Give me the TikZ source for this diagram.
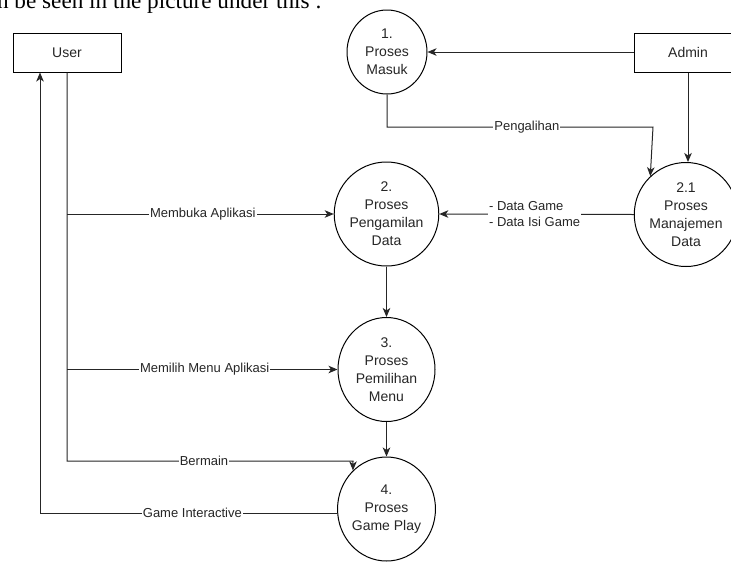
\documentclass[tikz,border=0pt]{standalone}
\usepackage{fontspec}
\setmainfont{Liberation Sans}
\newfontfamily\serifhead{Liberation Serif}
\usetikzlibrary{shapes.geometric,arrows.meta}
\begin{document}
\begin{tikzpicture}[x=1pt,y=-1pt,
  proc/.style={ellipse,draw=black,line width=1pt,inner sep=0pt,minimum width=97pt,minimum height=104pt,align=center,font=\fontsize{14}{18}\selectfont,text=black!85},
  ent/.style={rectangle,draw=black,line width=1pt,minimum width=108pt,minimum height=39pt,inner sep=0pt,font=\fontsize{14}{17}\selectfont,text=black!85},
  con/.style={draw=black!85,line width=1pt},
  arr/.style={con,-{Stealth[length=9pt,width=7.5pt,inset=2.5pt]}},
  lbl/.style={fill=white,inner sep=1pt,font=\fontsize{13}{16}\selectfont,text=black!85}]
\useasboundingbox (0,0) rectangle (731,563);
\clip (0,0) rectangle (731,563);
\fill[white] (0,0) rectangle (731,563);
\node[anchor=base east,inner sep=0pt,font=\serifhead\fontsize{23.2}{27}\selectfont] (head) at (322,8.5) {can be seen in the picture under this :};
% entities
\node[ent] (u) at (67,52.5) {User};
\node[ent] (a) at (688,52.5) {Admin};
% processes
\node[proc,minimum width=80pt,minimum height=84pt] (c1) at (387,52) {1.\\Proses\\Masuk};
\node[proc] (c2) at (386.5,214) {2.\\Proses\\Pengamilan\\Data};
\node[proc] (c3) at (386.5,369.5) {3.\\Proses\\Pemilihan\\Menu};
\node[proc] (c4) at (386.5,509) {4.\\Proses\\Game Play};
\node[proc,minimum width=90pt] (c21) at (686,214.5) {2.1\\Proses\\Manajemen\\Data};
% coordinates for bends
\coordinate (p1) at (387,127);
\coordinate (p2) at (653,127);
\coordinate (b1) at (67,461);
\coordinate (b2) at (353,461);
\coordinate (g2) at (40,513);
% connectors
\draw[arr] (a.west |- c1.east) -- (c1.east);
\draw[arr] (a.south) -- (a.south |- c21.north);
\draw[arr] (c1.south) -- (p1) -- node[lbl,pos=0.526]{Pengalihan} (p2) -- (c21.133.1);
\draw[arr] (c21.west) -- node[lbl,pos=0.51,align=left]{- Data Game\\- Data Isi Game} (c2.east);
\draw[arr] (c2.south) -- (c3.north);
\draw[arr] (c3.south) -- (c4.north);
\draw[arr] (u.south) -- (b1) -- node[lbl,pos=0.479]{Bermain} (b2) -- (c4.131.7);
\draw[arr] (u.south |- c2.west) -- node[lbl,pos=0.509]{Membuka Aplikasi} (c2.west);
\draw[arr] (u.south |- c3.west) -- node[lbl,pos=0.509]{Memilih Menu Aplikasi} (c3.west);
\draw[arr] ([yshift=-4pt]c4.west) -- node[lbl,pos=0.487]{Game Interactive} (g2) -- (g2 |- u.south);
\end{tikzpicture}
\end{document}
